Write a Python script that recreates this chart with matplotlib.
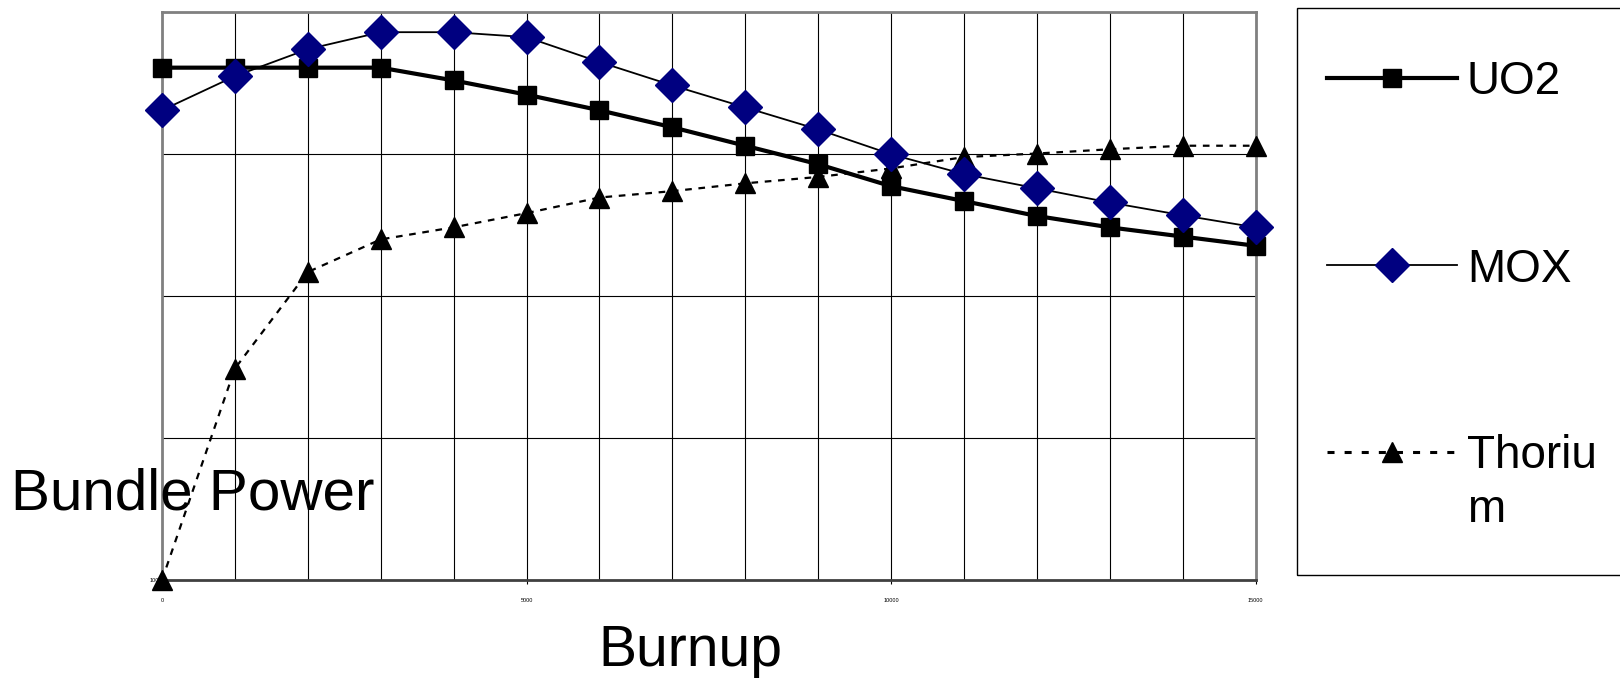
import matplotlib
matplotlib.use("Agg")
import matplotlib.pyplot as plt
from matplotlib.ticker import FixedLocator, FuncFormatter
from matplotlib.lines import Line2D
from matplotlib.patches import Rectangle

plt.rcParams['font.family'] = ['Liberation Sans', 'DejaVu Sans']

burnup = [0, 1000, 2000, 3000, 4000, 5000, 6000, 7000, 8000, 9000, 10000,
          11000, 12000, 13000, 14000, 15000]
uo2 = [461, 461, 461, 461, 452, 442, 431, 419, 406, 393, 377.5, 367, 356.5, 348.5, 342, 335.5]
mox = [431, 455, 474, 486, 486, 482.5, 465, 448.5, 433, 417.5, 400, 386, 376, 366, 357, 348.5]
thorium = [100, 249, 317, 340, 348.5, 358.5, 369.5, 374, 379.5, 384, 390, 398, 400.5, 403.5, 406, 406]
series_names = ['UO2', 'MOX', 'Thoriu\nm']

W, H = 1620, 684
fig = plt.figure(figsize=(W / 100, H / 100), dpi=100)
ax = fig.add_axes([0.100, 0.152, 0.675, 0.830])

styles = [
    dict(color='black', lw=3.0, marker='s', ms=13, mfc='black', mec='black'),
    dict(color='black', lw=1.3, marker='D', ms=17, mfc='#000080', mec='#000080'),
    dict(color='black', lw=1.6, ls=(0, (3, 3)), marker='^', ms=15, mfc='black', mec='black'),
]
legend_line_styles = [
    dict(color='black', lw=3.0, ls='-'),
    dict(color='black', lw=1.3, ls='-'),
    dict(color='black', lw=2.2, ls=(0, (2.3, 3.3))),
]
for ys, st, z in zip([uo2, mox, thorium], styles, [3, 4, 3]):
    ax.plot(burnup, ys, clip_on=False, zorder=z, **st)

ax.set_xlim(0, 15000)
ax.set_ylim(100, 500)
ax.xaxis.set_major_locator(FixedLocator([0, 5000, 10000, 15000]))
ax.xaxis.set_minor_locator(FixedLocator(list(range(0, 15001, 1000))))
ax.yaxis.set_major_locator(FixedLocator([100, 200, 300, 400, 500]))
ax.yaxis.set_major_formatter(FuncFormatter(lambda v, p: '100' if v == 100 else ''))
ax.grid(True, which='both', axis='x', color='black', lw=0.8)
ax.grid(True, which='major', axis='y', color='black', lw=0.8)
ax.tick_params(axis='both', which='major', labelsize=4, length=3, pad=10, color='black')
ax.tick_params(axis='y', which='major', length=0, pad=2)
ax.tick_params(axis='x', which='minor', length=0)
for s in ax.spines.values():
    s.set_color('#808080')
    s.set_linewidth(2)
ax.spines['bottom'].set_color('#404040')

fig.text(0.4259, 0.048, 'Burnup', fontsize=41, ha='center', va='center')
fig.text(0.007, 0.255, 'Bundle Power', fontsize=42, ha='left', va='baseline')

# legend drawn manually in figure pixel coordinates
def fx(px):
    return px / W

def fy(py):
    return 1 - py / H

fig.add_artist(Rectangle((fx(1297), fy(575)), fx(1640) - fx(1297), fy(8) - fy(575),
                         transform=fig.transFigure, fill=False, edgecolor='black', lw=1))
rows_y = [77.5, 265.5, 451.5]
for name, st, lst, yy in zip(series_names, styles, legend_line_styles, rows_y):
    fig.add_artist(Line2D([fx(1327), fx(1457)], [fy(yy), fy(yy)], transform=fig.transFigure,
                          **lst))
    fig.add_artist(Line2D([fx(1392)], [fy(yy)], transform=fig.transFigure, ls='none',
                          marker=st['marker'], ms=st['ms'], mfc=st['mfc'], mec=st['mec']))
    fig.text(fx(1467), fy(yy - 18), name, fontsize=33, ha='left', va='top',
             transform=fig.transFigure, linespacing=1.3)

fig.savefig('out.png', dpi=100, facecolor='white')
